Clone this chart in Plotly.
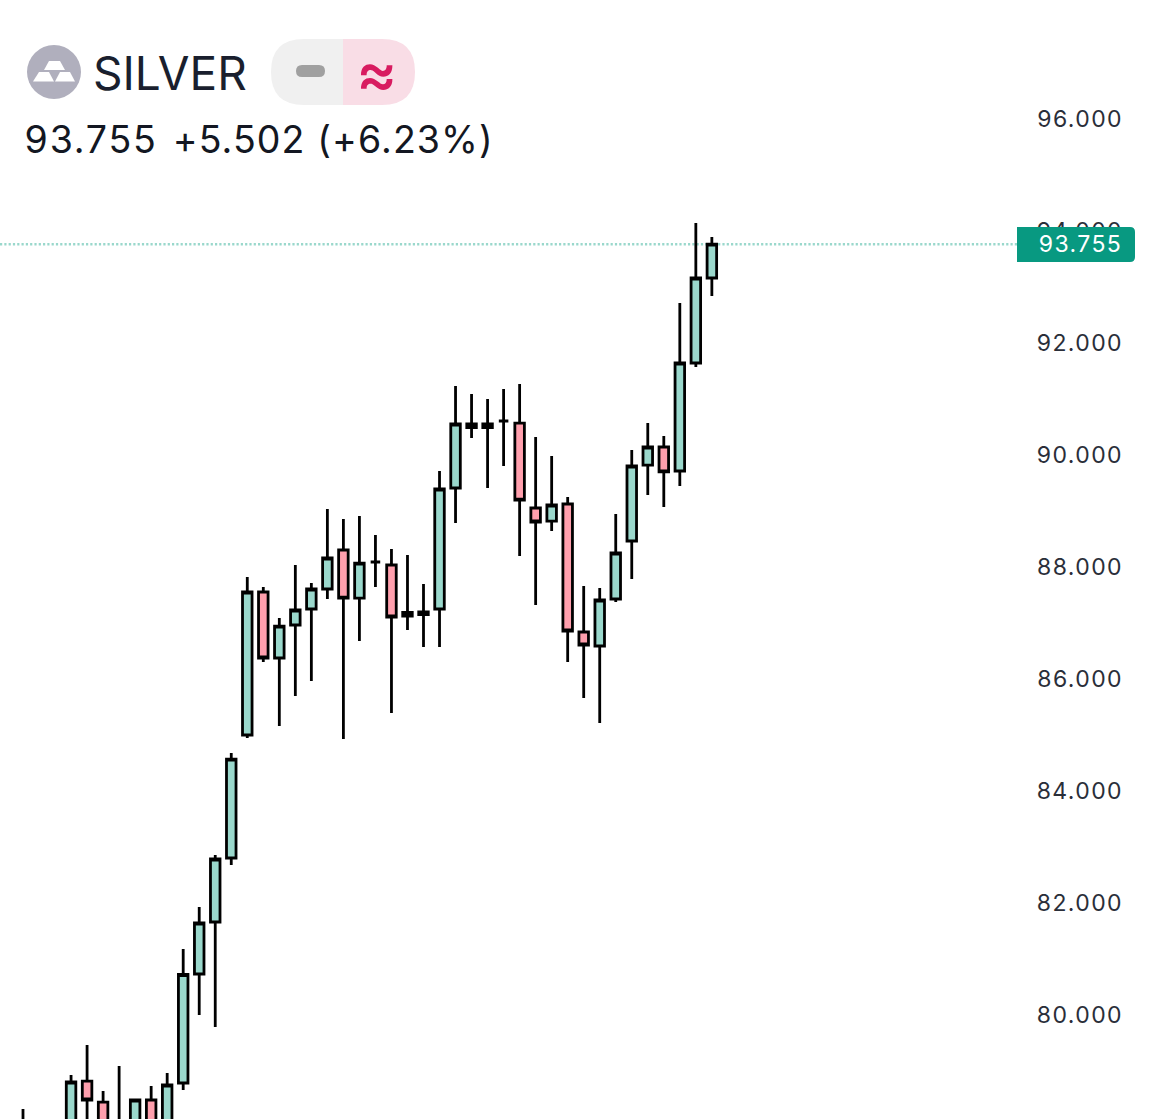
import plotly.graph_objects as go

# Chart values
session = [0, 3, 4, 5, 6, 7, 8, 9, 10, 11, 12, 13, 14, 15, 16, 17, 18, 19, 20, 21, 22,
           23, 24, 25, 26, 27, 28, 29, 30, 31, 32, 33, 34, 35, 36, 37, 38, 39, 40, 41, 42, 43]
open_ = [77.60, 78.027, 78.812, 78.437, 77.90, 78.05, 78.473, 78.05, 78.777, 80.723, 81.652, 82.795,
         84.991, 87.545, 86.366, 86.955, 87.241, 87.598, 88.295, 87.437, 88.08,
         88.027, 87.179, 87.14, 87.241, 89.402, 90.545, 90.482, 90.598, 90.562, 89.045, 88.812,
         89.116, 86.83, 86.58, 87.42, 88.455, 89.812, 90.134, 89.705, 91.634, 93.152]
high = [78.312, 78.92, 79.455, 78.634, 79.08, 78.491, 78.723, 78.955, 81.17, 81.92, 82.848, 84.67,
        87.812, 87.634, 87.08, 88.027, 87.705, 89.027, 88.848, 88.902, 88.562,
        88.312, 88.205, 87.687, 89.705, 91.223, 91.08, 90.991, 91.17, 91.259, 90.312, 89.973,
        89.241, 87.652, 87.616, 88.937, 90.08, 90.562, 90.33, 92.705, 94.134, 93.884]
low = [77.40, 77.90, 78.00, 77.80, 77.70, 77.90, 77.85, 77.95, 78.652, 79.991, 79.777, 82.67,
       84.937, 86.295, 85.152, 85.687, 85.955, 87.42, 84.92, 86.67, 87.634,
       85.384, 86.866, 86.562, 86.562, 88.777, 90.295, 89.402, 89.795, 88.187, 87.312, 88.634,
       86.295, 85.652, 85.205, 87.366, 87.777, 89.277, 89.063, 89.438, 91.563, 92.83]
close = [77.90, 78.795, 78.473, 78.00, 78.10, 78.473, 78.05, 78.741, 80.714, 81.634, 82.777, 84.562,
         87.545, 86.366, 86.937, 87.223, 87.598, 88.152, 87.437, 88.062, 88.08,
         87.098, 87.116, 87.19, 89.384, 90.545, 90.482, 90.545, 90.598, 89.187, 88.795, 89.098,
         86.848, 86.598, 87.402, 88.241, 89.795, 90.134, 89.688, 91.634, 93.152, 93.755]
tick_vals = [80, 82, 84, 86, 88, 90, 92, 94, 96]
last_price = 93.755
symbol = "SILVER"
change = "+5.502 (+6.23%)"

FIG_W, FIG_H = 1168, 1119
PLOT_W = 1128
FONT = "Inter"

# no page margin, and the wider letter spacing of the original labels
PAGE_CSS = """
var s = document.createElement('style');
s.textContent = "body{margin:0} .ytick text{letter-spacing:1.4px}"
  + " .annotation[data-index='1'] text{letter-spacing:1.8px}"
  + " .annotation[data-index='2'] text{letter-spacing:1.1px}"
  + " .annotation[data-index='4'] text{letter-spacing:1.4px}";
document.head.appendChild(s);
"""


def px(x):
    return x / PLOT_W


def py(y):
    return 1 - y / FIG_H


def rounded(x0, y0, x1, y1, left=0, right=0):
    # closed path in paper coords, corners rounded on the given side
    return (
        f"M {px(x0 + left)} {py(y0)} L {px(x1 - right)} {py(y0)} "
        f"Q {px(x1)} {py(y0)} {px(x1)} {py(y0 + right)} L {px(x1)} {py(y1 - right)} "
        f"Q {px(x1)} {py(y1)} {px(x1 - right)} {py(y1)} L {px(x0 + left)} {py(y1)} "
        f"Q {px(x0)} {py(y1)} {px(x0)} {py(y1 - left)} L {px(x0)} {py(y0 + left)} "
        f"Q {px(x0)} {py(y0)} {px(x0 + left)} {py(y0)} Z"
    )


def paper_shape(path, color):
    return dict(type="path", xref="paper", yref="paper", path=path,
                fillcolor=color, line=dict(width=0), layer="above")


def poly(points):
    return "M " + " L ".join(f"{px(x)} {py(y)}" for x, y in points) + " Z"


fig = go.Figure(
    go.Candlestick(
        x=session, open=open_, high=high, low=low, close=close,
        increasing=dict(fillcolor="#9ad8cc", line=dict(color="#000000", width=2.8)),
        decreasing=dict(fillcolor="#ff9fad", line=dict(color="#000000", width=2.8)),
        whiskerwidth=0,
    )
)

shapes = [
    dict(type="line", xref="paper", yref="y", x0=0, x1=px(1017), y0=last_price, y1=last_price,
         line=dict(color="#9ad8cc", width=2.5, dash="2.2px,2.1px"), layer="below"),
    paper_shape(rounded(1017, 227, 1135, 262, right=5), "#089981"),
    dict(type="circle", xref="paper", yref="paper", x0=px(27), x1=px(81), y0=py(99), y1=py(45),
         fillcolor="#b0afbd", line=dict(width=0), layer="above"),
    paper_shape(poly([(49, 61), (60, 61), (65, 70), (44, 70)]), "#ffffff"),
    paper_shape(poly([(39, 72), (49, 72), (54, 81.5), (33, 81.5)]), "#ffffff"),
    paper_shape(poly([(60, 72), (70, 72), (75, 81.5), (55, 81.5)]), "#ffffff"),
    paper_shape(rounded(271, 39, 343, 105, left=33), "#f0f0f0"),
    paper_shape(rounded(343, 39, 415, 105, right=33), "#f9dde6"),
    paper_shape(rounded(296, 65, 325, 77, left=6, right=6), "#a0a0a0"),
]

annotations = [
    dict(text=symbol, x=px(91), y=py(73), xanchor="left",
         font=dict(size=46, color="#1a1f2e", family=FONT)),
    dict(text=f"{last_price:.3f}", x=px(90.5), y=py(140), xanchor="center",
         font=dict(size=37.5, color="#131722", family=FONT)),
    dict(text=change, x=px(333.5), y=py(140), xanchor="center",
         font=dict(size=37.5, color="#131722", family=FONT)),
    dict(text="≈", x=px(376), y=py(72), xanchor="center",
         font=dict(size=62, color="#d81b60", family=FONT, weight=500)),
    dict(text=f"{last_price:.3f}", x=px(1080), y=py(244), xanchor="center",
         font=dict(size=23, color="#ffffff", family=FONT)),
]
for a in annotations:
    a.update(xref="paper", yref="paper", showarrow=False, yanchor="middle")

fig.update_layout(
    width=FIG_W, height=FIG_H,
    margin=dict(l=0, r=FIG_W - PLOT_W, t=0, b=0),
    paper_bgcolor="#ffffff", plot_bgcolor="#ffffff",
    showlegend=False, boxgap=0.15, boxgroupgap=0.3,
    shapes=shapes, annotations=annotations,
)
fig.update_xaxes(
    range=[-23 / 16.02, (PLOT_W - 23) / 16.02],
    visible=False, rangeslider_visible=False,
)
fig.update_yaxes(
    range=[96 - (FIG_H - 118.5) / 56, 96 + 118.5 / 56],
    side="right", ticklabelposition="inside", ticklabelstandoff=2,
    tickvals=tick_vals, tickformat=".3f", ticks="",
    showgrid=False, zeroline=False, showline=False,
    tickfont=dict(size=23, color="#2a2e39", family=FONT),
)

fig.write_html("out.html", post_script=PAGE_CSS, config={"displayModeBar": False})
